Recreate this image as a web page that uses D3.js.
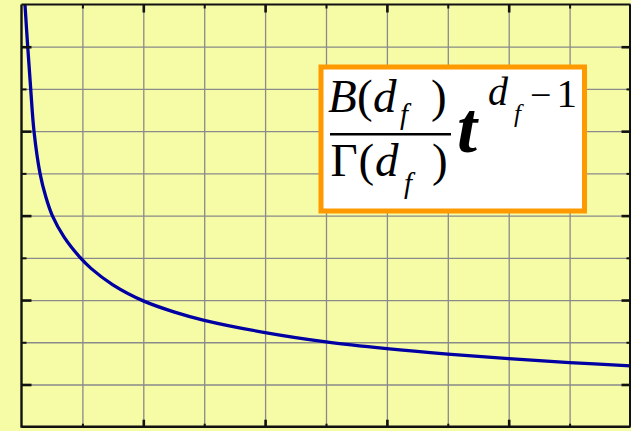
<!DOCTYPE html>
<html>
<head>
<meta charset="utf-8">
<script src="https://cdn.jsdelivr.net/npm/d3@7"></script>
<style>
  html, body { margin: 0; padding: 0; background: #f6fba6; }
  svg { display: block; }
</style>
</head>
<body>
<script>
// Sampled curve B(df)/Γ(df) · t^(df-1), in grid units
const tValues = [0.035, 0.057, 0.102, 0.151, 0.205, 0.304, 0.40, 0.506, 0.70, 0.961, 1.141, 1.5, 2.0, 2.5, 3.0, 4.0, 5.0, 6.0, 7.0, 8.0, 9.0, 10.0];
const yValues = [10.5, 10.0, 9.0, 8.0, 7.0, 6.0, 5.44, 5.0, 4.49, 4.01, 3.75, 3.36, 2.98, 2.72, 2.52, 2.23, 2.01, 1.85, 1.72, 1.61, 1.52, 1.44];

const xGridTicks = [1, 2, 3, 4, 5, 6, 7, 8, 9];
const yGridTicks = [1, 2, 3, 4, 5, 6, 7, 8, 9];
const xMajorTicks = [2, 4, 6, 8];
const xMinorTicks = [1, 3, 5, 7, 9];
const yMajorTicks = [1, 3, 5, 7, 9];
const yMinorTicks = [2, 4, 6, 8];

const W = 631, H = 431;
const plotL = 21.5, plotR = 630.5, plotT = 4.5, plotB = 426.7;

const svg = d3.select("body").append("svg").attr("width", W).attr("height", H);
svg.append("rect").attr("width", W).attr("height", H).attr("fill", "#f6fba6");

const x = d3.scaleLinear().domain([0, 10]).range([plotL, plotR]);
const y = d3.scaleLinear().domain([0, 10]).range([plotB, plotT]);

// grid
const gridColor = "#8a8a8a";
const gx = svg.append("g").attr("transform", `translate(0,${plotB})`)
  .call(d3.axisBottom(x).tickValues(xGridTicks).tickSize(-(plotB - plotT)).tickFormat(""));
gx.select(".domain").remove();
gx.selectAll("line").attr("stroke", gridColor).attr("stroke-width", 1.3);

const gy = svg.append("g").attr("transform", `translate(${plotL},0)`)
  .call(d3.axisLeft(y).tickValues(yGridTicks).tickSize(-(plotR - plotL)).tickFormat(""));
gy.select(".domain").remove();
gy.selectAll("line").attr("stroke", gridColor).attr("stroke-width", 1.3);

// curve
svg.append("clipPath").attr("id", "plotClip")
  .append("rect").attr("x", plotL).attr("y", plotT).attr("width", plotR - plotL).attr("height", plotB - plotT);

const pts = tValues.map((t, i) => [t, yValues[i]]);
svg.append("path")
  .datum(pts)
  .attr("clip-path", "url(#plotClip)")
  .attr("fill", "none")
  .attr("stroke", "#0000a3")
  .attr("stroke-width", 3.3)
  .attr("stroke-linejoin", "round")
  .attr("d", d3.line().x(d => x(d[0])).y(d => y(d[1])).curve(d3.curveCatmullRom.alpha(0.5)));

// frame
const frame = svg.append("g").attr("stroke", "#111").attr("fill", "none");
frame.append("line").attr("x1", plotL).attr("x2", plotL).attr("y1", plotT).attr("y2", plotB + 1).attr("stroke-width", 2.4);
frame.append("line").attr("x1", plotL).attr("x2", plotR).attr("y1", plotB).attr("y2", plotB).attr("stroke-width", 2.4);
frame.append("line").attr("x1", plotL).attr("x2", plotR).attr("y1", plotT).attr("y2", plotT).attr("stroke-width", 2);
frame.append("line").attr("x1", plotR - 0.5).attr("x2", plotR - 0.5).attr("y1", plotT).attr("y2", plotB).attr("stroke-width", 2);

// inward ticks on all four sides
function ticks(axisFn, scale, values, size, pos, width) {
  const g = svg.append("g").attr("transform", pos)
    .call(axisFn(scale).tickValues(values).tickSizeInner(size).tickSizeOuter(0).tickFormat(""));
  g.select(".domain").remove();
  g.selectAll("line").attr("stroke", "#111").attr("stroke-width", width);
}
ticks(d3.axisBottom, x, xMajorTicks, -7, `translate(0,${plotB})`, 2.6);
ticks(d3.axisBottom, x, xMinorTicks, -3, `translate(0,${plotB})`, 2);
ticks(d3.axisTop, x, xMajorTicks, -8, `translate(0,${plotT})`, 2.6);
ticks(d3.axisTop, x, xMinorTicks, -4, `translate(0,${plotT})`, 2);
ticks(d3.axisLeft, y, yMajorTicks, -10, `translate(${plotL},0)`, 2.6);
ticks(d3.axisLeft, y, yMinorTicks, -5, `translate(${plotL},0)`, 2);
ticks(d3.axisRight, y, yMajorTicks, -9, `translate(${plotR},0)`, 2.6);
ticks(d3.axisRight, y, yMinorTicks, -4, `translate(${plotR},0)`, 2);

// formula box
const box = svg.append("g");
box.append("rect").attr("x", 321).attr("y", 67).attr("width", 263.5).attr("height", 144)
  .attr("fill", "#ffffff").attr("stroke", "#ff9900").attr("stroke-width", 5);

const serif = "'Liberation Serif', 'Times New Roman', serif";
// one text element per formula row; each glyph is a placed tspan
function row(parts) {
  const t = box.append("text").attr("font-family", serif).attr("fill", "#000");
  parts.forEach(p => {
    t.append("tspan").attr("x", p[1]).attr("y", p[2]).attr("font-size", p[3])
      .attr("font-style", p[4] || "normal").attr("font-weight", p[5] || "normal")
      .text(p[0]);
  });
}
// numerator B(d_f)
row([
  ["B", 328, 111.5, 47, "italic"],
  ["(", 357, 111.5, 47],
  ["d", 373, 111.5, 47, "italic"],
  ["f", 400, 124, 29, "italic"],
  [")", 431, 111.5, 47]
]);
box.append("line").attr("x1", 330).attr("x2", 451).attr("y1", 134.3).attr("y2", 134.3)
  .attr("stroke", "#000").attr("stroke-width", 2.4);
// denominator Γ(d_f)
row([
  ["Γ", 330.5, 175.5, 47],
  ["(", 358.5, 175.5, 47],
  ["d", 375, 175.5, 47, "italic"],
  ["f", 404, 193, 29, "italic"],
  [")", 432, 175.5, 47]
]);
// t^(d_f - 1)
row([
  ["t", 457, 152, 72, "italic", "bold"],
  ["d", 488, 105, 40, "italic"],
  ["f", 514, 122, 25, "italic"],
  ["\u2212", 530, 108, 38],
  ["1", 556.5, 107, 41]
]);
</script>
</body>
</html>
